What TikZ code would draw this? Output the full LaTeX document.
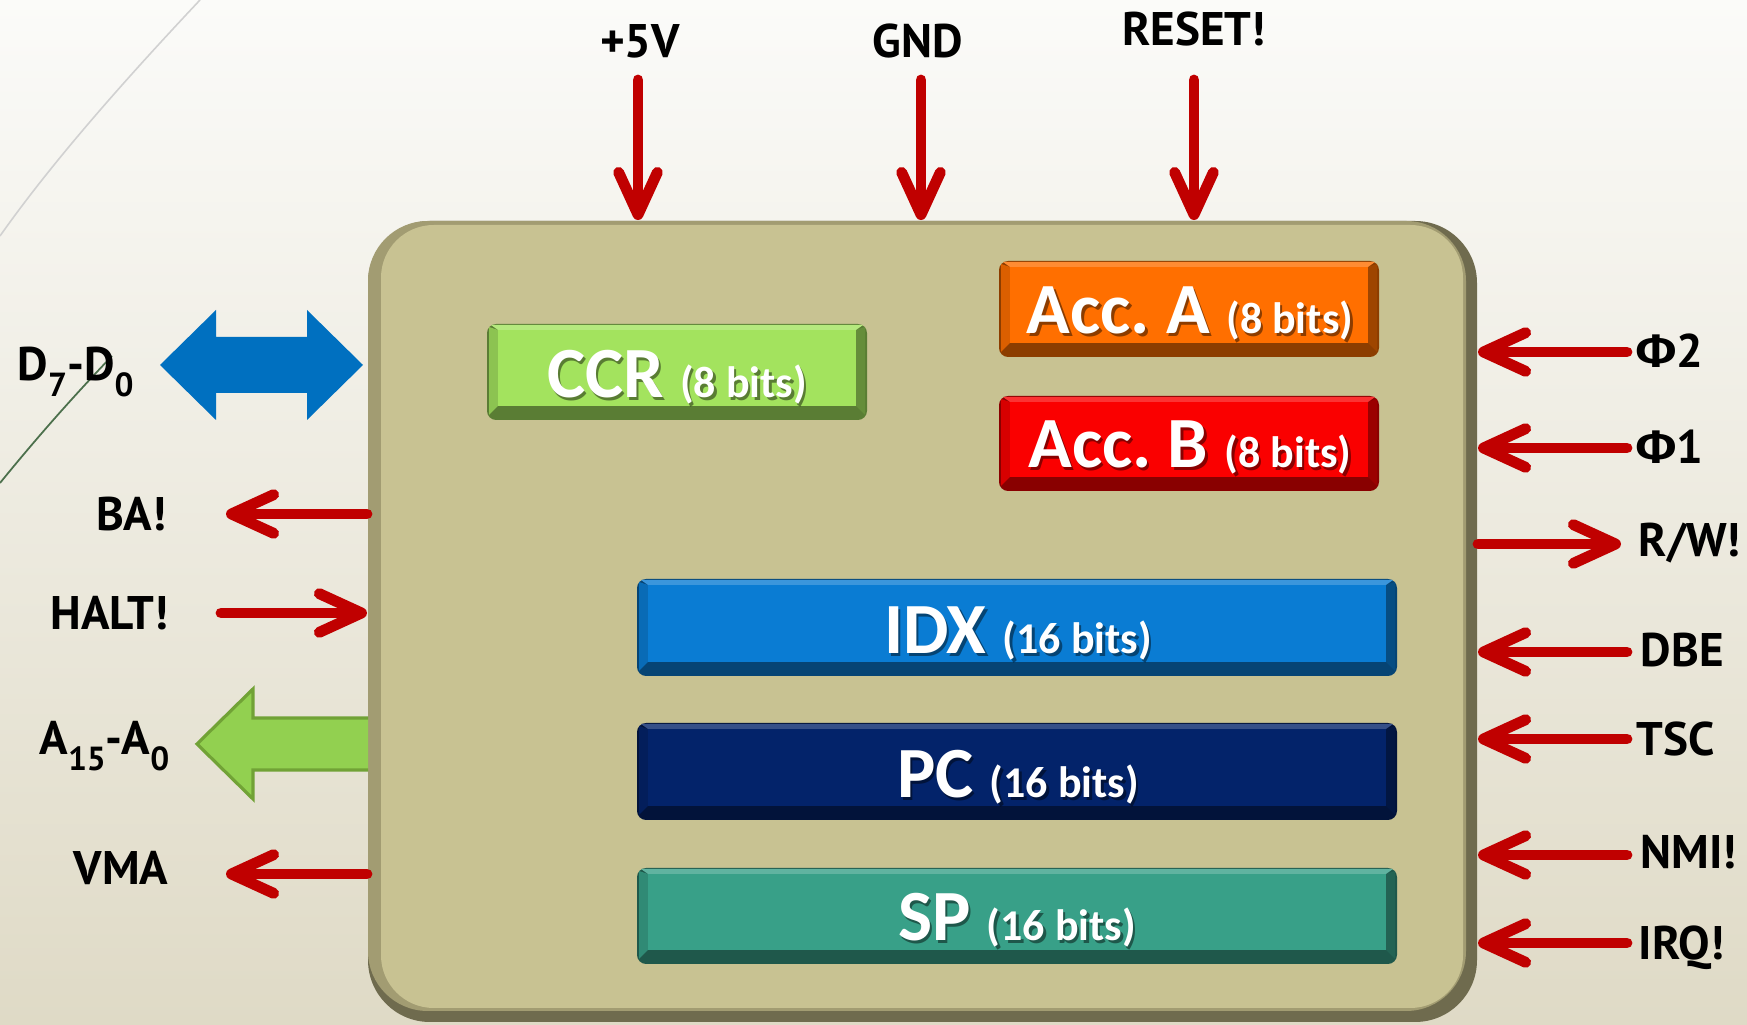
\documentclass[tikz,border=0pt]{standalone}
\usepackage{fontspec}
\usetikzlibrary{arrows.meta}
\newfontfamily\labfont{PT Sans}
\newfontfamily\grfont{Fira Sans}
\newfontfamily\regfont{Carlito}
\definecolor{sigred}{HTML}{C00000}
\definecolor{bgtop}{HTML}{FBFBF9}
\definecolor{bgbot}{HTML}{DFDAC6}
\definecolor{chipdark}{HTML}{6F6B4E}
\definecolor{chipside}{HTML}{A29C72}
\definecolor{chipface}{HTML}{C8C292}
\definecolor{ccrc}{HTML}{A3E35E}
\definecolor{accac}{HTML}{FF6F00}
\definecolor{accbc}{HTML}{FA0000}
\definecolor{idxc}{HTML}{0A7CD3}
\definecolor{pcc}{HTML}{03236A}
\definecolor{spc}{HTML}{38A088}
\definecolor{busblue}{HTML}{0070C0}
\definecolor{busgreen}{HTML}{92D050}
\definecolor{busgreenedge}{HTML}{71A236}
\frenchspacing
\newcommand\sbs[1]{\raisebox{-0.32em}{\fontsize{9.5}{10}\selectfont #1}}
\newcommand\regbox[5]{%
  \fill[#5!55!black, rounded corners=2.6pt] (#1,#2) rectangle (#3,#4);
  \fill[#5!86!black] (#1+2,#2+3) -- (#1+11,#2+6) -- (#1+11,#4-14) -- (#1+2,#4-5) -- cycle;
  \fill[#5!62!black] (#3-2,#2+3) -- (#3-11,#2+6) -- (#3-11,#4-14) -- (#3-2,#4-5) -- cycle;
  \fill[#5!80!white] (#1+4,#2+1) -- (#3-4,#2+1) -- (#3-11,#2+6) -- (#1+11,#2+6) -- cycle;
  \fill[#5] (#1+11,#2+6) rectangle (#3-11,#4-14);
}
\newcommand\regtext[4]{%
  \node[regtxt, text=black, opacity=0.45] (#1s) at (#2+2.5,#3+2.5) {#4};
  \node[regtxt] (#1) at (#2,#3) {#4};
}
\begin{document}
\begin{tikzpicture}[x=0.01cm, y=-0.01cm,
  sig/.style={draw=sigred, line width=3.1pt, line cap=round,
    -{Straight Barb[length=12pt, width=11pt, round]}},
  lab/.style={font=\labfont\bfseries\fontsize{13.4}{16}\selectfont, text=black, inner sep=0pt},
  regtxt/.style={font=\regfont\bfseries\fontsize{20.5}{24}\selectfont, text=white, inner sep=0pt, anchor=base}]
\useasboundingbox (0,0) rectangle (1747,1025);
\clip (0,0) rectangle (1747,1025);
% background
\shade[top color=bgtop, bottom color=bgbot] (0,0) rectangle (1747,1025);
\draw[color=black!18, line width=0.45pt] (200,0) .. controls (120,85) and (50,165) .. (0,236);
\draw[color=black!65!green!40!gray, line width=0.5pt] (112,356) .. controls (70,400) and (35,440) .. (0,483);
% chip body
\fill[chipdark, rounded corners=17.6pt] (368,221) rectangle (1477,1022);
\fill[chipside, rounded corners=17pt] (368,221) rectangle (1466,1011);
\fill[chipface, rounded corners=15pt] (381,225) rectangle (1463,1008);
\node[minimum width=11.09cm, minimum height=8.01cm, inner sep=0pt] (chip) at (922.5,621.5) {};
% registers
\regbox{487}{324}{867}{420}{ccrc}
\regbox{999}{261}{1379}{357}{accac}
\regbox{999}{396}{1379}{491}{accbc}
\regbox{637}{579}{1397}{676}{idxc}
\regbox{637}{723}{1397}{820}{pcc}
\regbox{637}{868}{1397}{964}{spc}
\regtext{ccr}{677}{398}{CCR {\fontsize{12.5}{14}\selectfont (8 bits)}}
\regtext{acca}{1190}{334}{Acc. A {\fontsize{12.5}{14}\selectfont (8 bits)}}
\regtext{accb}{1190}{468}{Acc. B {\fontsize{12.5}{14}\selectfont (8 bits)}}
\regtext{idx}{1018}{654}{IDX {\fontsize{12.5}{14}\selectfont (16 bits)}}
\regtext{pc}{1018}{798}{PC {\fontsize{12.5}{14}\selectfont (16 bits)}}
\regtext{sp}{1017}{941}{SP {\fontsize{12.5}{14}\selectfont (16 bits)}}
% top signals
\node[lab, anchor=base] (vcc) at (640,58) {+5V};
\node[lab, anchor=base] (gnd) at (918,58) {GND};
\node[lab, anchor=base] (rst) at (1194,46) {RESET!};
\coordinate (vcct) at (638,80);
\coordinate (gndt) at (921,80);
\coordinate (rstt) at (1194,80);
\draw[sig] (vcct) -- (vcct |- chip.north);
\draw[sig] (gndt) -- (gndt |- chip.north);
\draw[sig] (rstt) -- (rstt |- chip.north);
% left signals
\node[lab, anchor=base west] (dbus) at (17,381) {D\sbs{7}-D\sbs{0}};
\fill[busblue] (160,365) -- (216,310) -- (216,337) -- (307,337) -- (307,310) -- (363,365)
  -- (307,420) -- (307,393) -- (216,393) -- (216,420) -- cycle;
\node[lab, anchor=east] (ba) at (167,514) {BA!};
\coordinate (bae) at (226,514);
\draw[sig] (bae -| chip.west) -- (bae);
\node[lab, anchor=east] (halt) at (169,613) {HALT!};
\coordinate (halts) at (221,613);
\draw[sig] (halts) -- (halts -| chip.west);
\node[lab, anchor=base east] (abus) at (170,755) {A\sbs{15}-A\sbs{0}};
\fill[busgreen, draw=busgreenedge, line width=0.9pt] (368,718) -- (253,718) -- (253,689) -- (197,744)
  -- (253,799) -- (253,770) -- (368,770);
\node[lab, anchor=east] (vma) at (169,868) {VMA};
\coordinate (vmae) at (226,874);
\draw[sig] (vmae -| chip.west) -- (vmae);
% right signals
\node[lab, anchor=base west] (phi2) at (1636,368) {{\grfont\bfseries Φ}2};
\coordinate (phi2s) at (1627,352);
\draw[sig] (phi2s) -- (phi2s -| chip.east);
\node[lab, anchor=base west] (phi1) at (1636,464) {{\grfont\bfseries Φ}1};
\coordinate (phi1s) at (1627,448);
\draw[sig] (phi1s) -- (phi1s -| chip.east);
\node[lab, anchor=base west] (rw) at (1638,557) {R/W!};
\coordinate (rwe) at (1621,544);
\draw[sig] (rwe -| chip.east) -- (rwe);
\node[lab, anchor=base west] (dbe) at (1640,667) {DBE};
\coordinate (dbes) at (1627,652);
\draw[sig] (dbes) -- (dbes -| chip.east);
\node[lab, anchor=base west] (tsc) at (1636,756) {TSC};
\coordinate (tscs) at (1627,739);
\draw[sig] (tscs) -- (tscs -| chip.east);
\node[lab, anchor=base west] (nmi) at (1640,869) {NMI!};
\coordinate (nmis) at (1627,855);
\draw[sig] (nmis) -- (nmis -| chip.east);
\node[lab, anchor=base west] (irq) at (1638,960) {IRQ!};
\coordinate (irqs) at (1627,943);
\draw[sig] (irqs) -- (irqs -| chip.east);
\end{tikzpicture}
\end{document}
